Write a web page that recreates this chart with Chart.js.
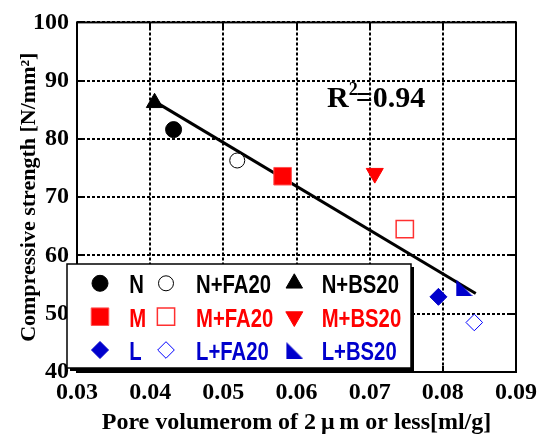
<!DOCTYPE html>
<html>
<head>
<meta charset="utf-8">
<script src="https://cdn.jsdelivr.net/npm/chart.js@4.4.1/dist/chart.umd.min.js"></script>
<style>
html,body{margin:0;padding:0;background:#fff;}
canvas{display:block;}
</style>
</head>
<body>
<canvas id="c" width="543" height="440"></canvas>
<script>
// ---- data ----
const seriesNames = ['N', 'N+FA20', 'N+BS20', 'M', 'M+FA20', 'M+BS20', 'L', 'L+FA20', 'L+BS20'];
const poreVolume  = [0.0432, 0.0519, 0.0406, 0.0581, 0.0748, 0.0707, 0.0794, 0.0843, 0.0829];
const strength    = [81.6, 76.3, 86.2, 73.6, 64.5, 74.1, 52.9, 48.5, 54.5];
const fitX = [0.0406, 0.0845];
const fitY = [86.45, 53.46];
const xTickValues = [0.03, 0.04, 0.05, 0.06, 0.07, 0.08, 0.09];
const yTickValues = [40, 50, 60, 70, 80, 90, 100];
const r2Value = '0.94';
const xTitle = 'Pore volumerom of 2\u2009\u03bc\u2009m or less[ml/g]';
const yTitle = 'Compressive strength [N/mm\u00b2]';

// ---- styles ----
const BLACK = '#000000', RED = '#ff0000', BLUE = '#0000cc';
const rowColors = [BLACK, RED, BLUE];

function rightTriangle(size, color) {
  const c = document.createElement('canvas');
  c.width = size; c.height = size;
  const g = c.getContext('2d');
  g.fillStyle = color;
  g.beginPath();
  g.moveTo(0.5, 0.5);
  g.lineTo(0.5, size);
  g.lineTo(size, size);
  g.closePath();
  g.fill();
  return c;
}

const markerStyles = [
  {pointStyle: 'circle',   radius: 8,    bg: BLACK,  border: BLACK,  bw: 1,   rot: 0},
  {pointStyle: 'circle',   radius: 7.5,  bg: '#fff', border: BLACK,  bw: 1,   rot: 0},
  {pointStyle: 'triangle', radius: 9.5,  bg: BLACK,  border: BLACK,  bw: 1,   rot: 0},
  {pointStyle: 'rect',     radius: 12.4, bg: RED,    border: '#ff5050', bw: 1, rot: 0},
  {pointStyle: 'rect',     radius: 12.2, bg: '#fff', border: '#ff3030', bw: 1.5, rot: 0},
  {pointStyle: 'triangle', radius: 9.8,  bg: RED,    border: RED,    bw: 1,   rot: 180},
  {pointStyle: 'rectRot',  radius: 8.5,  bg: BLUE,   border: BLUE,   bw: 1,   rot: 0},
  {pointStyle: 'rectRot',  radius: 8.3,  bg: '#fff', border: '#0000ff', bw: 1, rot: 0},
  {pointStyle: rightTriangle(17, BLUE), radius: 9, bg: BLUE, border: BLUE, bw: 0, rot: 0}
];

const datasets = seriesNames.map((name, i) => ({
  label: name,
  data: [{x: poreVolume[i], y: strength[i]}],
  pointStyle: markerStyles[i].pointStyle,
  pointRadius: markerStyles[i].radius,
  pointRotation: markerStyles[i].rot,
  backgroundColor: markerStyles[i].bg,
  borderColor: markerStyles[i].border,
  borderWidth: markerStyles[i].bw,
  order: 0
}));
datasets.push({
  type: 'line',
  label: 'fit',
  data: fitX.map((x, i) => ({x: x, y: fitY[i]})),
  borderColor: BLACK,
  borderWidth: 3,
  pointRadius: 0,
  fill: false,
  order: 10
});

const serif = '"Liberation Serif", "Times New Roman", serif';

const bgPlugin = {
  id: 'bg',
  beforeDraw(chart) {
    const ctx = chart.ctx;
    ctx.save();
    ctx.fillStyle = '#fff';
    ctx.fillRect(0, 0, chart.width, chart.height);
    ctx.restore();
  }
};

const framePlugin = {
  id: 'frame',
  afterDatasetsDraw(chart) {
    const {ctx, chartArea: a, scales} = chart;
    ctx.save();
    ctx.strokeStyle = BLACK;
    ctx.lineWidth = 2;
    const tl = 6;
    ctx.beginPath();
    xTickValues.forEach(v => {
      const px = Math.round(scales.x.getPixelForValue(v));
      ctx.moveTo(px, a.top); ctx.lineTo(px, a.top + tl);
      ctx.moveTo(px, a.bottom); ctx.lineTo(px, a.bottom - tl);
    });
    yTickValues.forEach(v => {
      const py = Math.round(scales.y.getPixelForValue(v));
      ctx.moveTo(a.left, py); ctx.lineTo(a.left + tl, py);
      ctx.moveTo(a.right, py); ctx.lineTo(a.right - tl, py);
    });
    ctx.stroke();
    ctx.strokeRect(a.left, a.top, a.right - a.left, a.bottom - a.top);
    ctx.restore();
  }
};

const r2Plugin = {
  id: 'r2',
  afterDatasetsDraw(chart) {
    const ctx = chart.ctx;
    ctx.save();
    ctx.fillStyle = BLACK;
    ctx.textBaseline = 'alphabetic';
    ctx.textAlign = 'left';
    let x = 327, y = 107;
    ctx.font = 'bold 30px ' + serif;
    ctx.fillText('R', x, y);
    x += ctx.measureText('R').width;
    ctx.font = 'bold 18px ' + serif;
    ctx.fillText('2', x, y - 12);
    x += ctx.measureText('2').width - 2;
    ctx.font = 'bold 30px ' + serif;
    ctx.fillText('=' + r2Value, x, y);
    ctx.restore();
  }
};

const legendPlugin = {
  id: 'gridLegend',
  afterDraw(chart) {
    const ctx = chart.ctx;
    const box = {l: 67, t: 264, r: 411, b: 368};
    const rowY = [283.3, 316.7, 350];
    const markX = [100, 166, 294.3];
    const textX = [129.3, 196, 321.7];
    ctx.save();
    ctx.fillStyle = BLACK;
    ctx.fillRect(box.l + 3, box.t + 3, box.r - box.l, box.b - box.t);
    ctx.fillStyle = '#fff';
    ctx.fillRect(box.l, box.t, box.r - box.l, box.b - box.t);
    ctx.strokeStyle = BLACK;
    ctx.lineWidth = 1.5;
    ctx.strokeRect(box.l, box.t, box.r - box.l, box.b - box.t);
    ctx.restore();

    chart.data.datasets.forEach((ds, i) => {
      if (i >= seriesNames.length) return;
      const row = Math.floor(i / 3), col = i % 3;
      const mx = markX[col], my = rowY[row];
      ctx.save();
      ctx.fillStyle = ds.backgroundColor;
      ctx.strokeStyle = ds.borderColor;
      ctx.lineWidth = ds.borderWidth;
      const opts = {pointStyle: ds.pointStyle, rotation: ds.pointRotation, radius: ds.pointRadius, borderWidth: ds.borderWidth};
      if (Chart.helpers && Chart.helpers.drawPoint) {
        Chart.helpers.drawPoint(ctx, opts, mx, my);
      }
      ctx.restore();
      ctx.save();
      ctx.fillStyle = rowColors[row];
      ctx.font = 'bold 26px "Liberation Sans", Arial, sans-serif';
      ctx.textBaseline = 'alphabetic';
      ctx.textAlign = 'left';
      ctx.translate(textX[col], my + 10);
      ctx.scale(0.78, 1);
      ctx.fillText(ds.label, 0, 0);
      ctx.restore();
    });
  }
};

new Chart(document.getElementById('c'), {
  type: 'scatter',
  data: {datasets: datasets},
  options: {
    responsive: false,
    animation: false,
    events: [],
    layout: {padding: {top: 22, right: 27, left: 0, bottom: 0}},
    plugins: {legend: {display: false}, tooltip: {enabled: false}, title: {display: false}},
    scales: {
      x: {
        type: 'linear',
        min: 0.03, max: 0.09,
        afterBuildTicks: s => { s.ticks = xTickValues.map(v => ({value: v})); },
        afterFit: s => { s.height = 68; },
        ticks: {
          callback: v => Number(v).toFixed(2),
          font: {family: serif, size: 24, weight: 'bold'},
          color: BLACK, padding: 6, maxRotation: 0, autoSkip: false
        },
        grid: {color: BLACK, lineWidth: 2, drawTicks: false},
        border: {display: false, dash: [3, 2]},
        title: {display: true, text: xTitle, color: BLACK,
                font: {family: serif, size: 24, weight: 'bold'}, padding: {top: 0, bottom: 3}}
      },
      y: {
        type: 'linear',
        min: 40, max: 100,
        afterBuildTicks: s => { s.ticks = yTickValues.map(v => ({value: v})); },
        afterFit: s => { s.width = 77; },
        ticks: {
          font: {family: serif, size: 24, weight: 'bold'},
          color: BLACK, padding: 8
        },
        grid: {color: BLACK, lineWidth: 2, drawTicks: false},
        border: {display: false, dash: [3, 2]},
        title: {display: true, text: yTitle, color: BLACK,
                font: {family: serif, size: 22, weight: 'bold'}, padding: {top: 16, bottom: 0}}
      }
    }
  },
  plugins: [bgPlugin, framePlugin, r2Plugin, legendPlugin]
});
</script>
</body>
</html>
